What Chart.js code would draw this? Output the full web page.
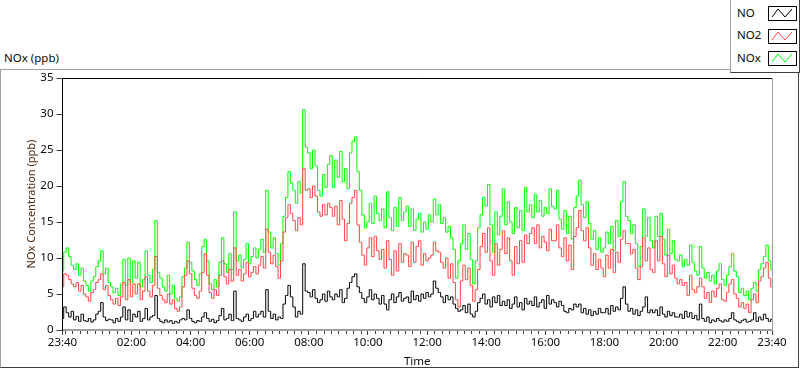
<!DOCTYPE html>
<html lang="en">
<head>
  <meta charset="UTF-8" />
  <title>NOx (ppb)</title>
  <script src="https://cdn.jsdelivr.net/npm/chart.js"></script>
  <style>
    html, body { margin: 0; padding: 0; background: #fff; }
    body { width: 800px; height: 369px; position: relative; overflow: hidden; font-family: "Noto Sans", sans-serif; color: #0a0a0a; }
    #frame { position: absolute; left: 0; top: 69px; width: 797px; height: 297px; border-top: 1px solid #a0a0a0; border-left: 1px solid #a0a0a0; border-right: 1px solid #404040; border-bottom: 1px solid #404040; }
    #plotTitle { position: absolute; left: 4px; top: 50px; font-size: 11.5px; line-height: normal; }
    #chart { position: absolute; left: 0; top: 0; }
    #legend { position: absolute; left: 730px; top: 0; width: 68px; height: 72px; background: #fff; border-left: 1px solid #a0a0a0; border-right: 1px solid #404040; border-bottom: 1px solid #404040; }
    .lg-text { position: absolute; left: 6px; font-size: 11.5px; line-height: normal; }
    .lg-icon { position: absolute; left: 37px; }
  </style>
</head>
<body>
  <div id="frame"></div>
  <div id="plotTitle">NOx (ppb)</div>
  <canvas id="chart" width="800" height="369"></canvas>
  <div id="legend"></div>

<script>
  // readings every 5 minutes, starting 23:40
  const sampleStep = 5;

  const NO = [
    1.6, 3.2, 2.4, 1.8, 2.6, 1.4, 1.9, 1.2, 2.2, 1.3,
    1.2, 1.6, 1.1, 1.4, 2.2, 2.6, 3.8, 1.8, 1.3, 1.5,
    1.4, 1.0, 1.6, 1.2, 1.8, 3.2, 1.4, 2.8, 1.2, 2.2,
    1.8, 2.6, 1.2, 1.6, 3.0, 1.4, 1.8, 2.0, 4.8, 1.6,
    1.2, 1.0, 1.4, 1.1, 1.3, 0.9, 1.2, 1.0, 1.4, 1.6,
    1.4, 2.8, 1.6, 1.2, 1.0, 1.3, 1.2, 1.8, 2.4, 1.6,
    1.2, 1.5, 1.0, 1.3, 2.0, 3.0, 1.4, 1.6, 2.2, 1.3,
    5.4, 1.6, 1.4, 1.2, 1.8, 2.2, 1.3, 1.6, 2.6, 1.8,
    2.2, 2.6, 1.8, 5.6, 2.6, 1.6, 2.2, 1.4, 1.8, 1.6,
    3.6, 4.8, 6.2, 4.6, 3.2, 1.8, 2.6, 2.2, 9.2, 5.4,
    5.2, 4.6, 5.6, 4.4, 3.8, 4.2, 5.0, 4.0, 5.4, 4.6,
    4.2, 5.0, 4.6, 5.6, 3.8, 4.4, 5.8, 6.6, 7.4, 7.8,
    6.0, 5.2, 4.4, 3.8, 4.6, 5.6, 4.2, 5.0, 4.4, 3.6,
    4.8, 3.6, 2.8, 4.2, 5.0, 3.8, 4.6, 5.2, 4.0, 4.4,
    4.6, 3.8, 5.4, 4.2, 4.8, 4.0, 5.0, 4.4, 5.2, 4.6,
    5.0, 6.8, 5.8, 5.2, 4.6, 3.8, 4.8, 4.2, 4.6, 3.6,
    3.0, 2.6, 2.8, 3.4, 2.4, 3.6, 2.2, 1.8, 2.6, 3.8,
    4.4, 5.0, 3.6, 4.2, 3.2, 4.6, 3.8, 4.8, 3.4, 4.0,
    3.4, 4.2, 3.0, 3.6, 4.6, 3.2, 3.8, 2.8, 4.4, 3.6,
    4.0, 3.4, 4.6, 3.2, 3.8, 4.2, 3.0, 4.8, 3.6, 4.2,
    3.8, 3.2, 4.0, 3.4, 2.6, 2.4, 3.0, 2.8, 3.6, 3.2,
    3.6, 2.4, 3.0, 2.2, 2.8, 2.0, 2.6, 2.2, 3.0, 2.4,
    2.4, 3.0, 2.2, 3.4, 2.6, 3.2, 2.8, 4.4, 6.0, 3.6,
    2.6, 3.0, 2.2, 2.8, 2.0, 2.6, 3.2, 4.6, 2.4, 2.8,
    2.4, 2.8, 2.0, 3.2, 2.2, 1.8, 2.6, 2.0, 2.4, 1.8,
    1.8, 2.2, 1.6, 2.6, 1.8, 2.4, 1.6, 2.0, 1.4, 3.6,
    1.6, 1.2, 1.8, 1.0, 1.4, 1.2, 1.6, 1.3, 1.1, 1.4,
    1.2, 1.6, 2.4, 1.4, 1.2, 1.0, 1.3, 1.5, 1.1, 1.2,
    1.4, 2.4, 1.2, 1.8, 1.4, 2.2, 1.6, 1.2, 1.5
  ];

  const NO2 = [
    6.0, 7.8, 7.6, 7.0, 6.4, 6.0, 6.6, 5.4, 6.2, 5.0,
    4.6, 4.0, 5.2, 5.6, 6.6, 7.0, 7.8, 5.6, 6.2, 4.8,
    4.2, 3.6, 4.4, 3.4, 4.6, 6.6, 4.2, 7.0, 4.6, 6.4,
    5.0, 6.4, 4.2, 5.4, 7.4, 5.4, 4.6, 6.2, 10.2, 5.8,
    4.8, 4.2, 3.8, 5.0, 3.6, 4.2, 3.0, 2.6, 3.2, 6.0,
    7.6, 9.6, 7.8, 5.8, 4.8, 4.4, 5.4, 8.0, 10.6, 7.6,
    5.2, 4.4, 5.6, 4.8, 7.6, 9.6, 7.4, 6.4, 8.4, 6.8,
    11.4, 7.6, 8.4, 6.8, 7.8, 9.4, 7.4, 8.0, 8.8, 7.8,
    9.0, 10.2, 8.6, 14.0, 10.8, 9.2, 10.4, 8.8, 7.2, 9.6,
    13.6, 15.6, 17.4, 16.2, 15.2, 13.8, 15.6, 14.6, 22.4, 19.4,
    19.6, 18.4, 20.0, 18.6, 16.4, 15.8, 17.4, 16.0, 17.6, 17.0,
    15.8, 17.2, 14.6, 18.0, 15.4, 12.4, 14.8, 17.6, 18.4, 19.4,
    14.6, 12.2, 10.4, 9.0, 11.4, 12.8, 10.2, 13.0, 11.0, 9.8,
    11.2, 8.6, 12.4, 9.8, 7.6, 11.0, 8.2, 12.0, 9.4, 10.6,
    10.4, 8.8, 12.2, 9.4, 11.6, 12.4, 9.0, 10.6, 9.6, 10.0,
    10.4, 12.2, 11.0, 10.8, 9.4, 8.6, 10.0, 7.2, 9.2, 6.6,
    4.2, 3.2, 6.8, 9.0, 7.0, 8.6, 6.2, 4.0, 5.6, 8.4,
    11.6, 13.4, 10.8, 14.2, 9.6, 7.6, 12.0, 9.0, 11.2, 13.8,
    10.6, 12.8, 9.6, 7.6, 11.6, 9.2, 12.4, 9.4, 13.2, 12.0,
    13.4, 14.2, 12.0, 14.6, 11.4, 13.0, 12.2, 11.0, 14.0, 12.4,
    12.4, 14.6, 11.4, 10.2, 12.8, 9.6, 11.8, 8.4, 13.0, 14.2,
    16.6, 13.8, 12.4, 14.2, 11.4, 9.0, 10.6, 8.4, 9.8, 8.6,
    7.4, 10.4, 8.6, 11.2, 8.0, 10.8, 9.4, 12.6, 13.8, 12.0,
    12.0, 10.6, 11.2, 8.6, 7.0, 8.8, 12.8, 9.6, 11.4, 8.4,
    8.0, 12.4, 9.6, 13.0, 9.2, 7.4, 10.4, 7.8, 9.0, 7.2,
    6.4, 7.0, 6.2, 6.6, 4.8, 7.6, 5.6, 5.2, 6.0, 7.2,
    6.0, 4.4, 5.2, 3.8, 5.4, 4.6, 5.8, 6.4, 4.2, 4.0,
    5.2, 6.4, 7.0, 5.0, 4.4, 3.2, 3.8, 3.0, 3.6, 2.4,
    4.2, 5.0, 3.8, 6.8, 7.4, 8.6, 9.4, 7.2, 6.0
  ];

  const NOx = [
    8.2, 10.8, 11.4, 10.2, 9.0, 8.4, 9.2, 7.6, 8.6, 6.8,
    6.2, 5.4, 6.8, 7.4, 8.8, 9.6, 11.0, 7.8, 8.6, 6.6,
    6.0, 5.2, 5.8, 4.8, 6.4, 9.8, 6.2, 10.0, 6.6, 9.6,
    7.2, 9.4, 6.0, 7.0, 11.0, 7.6, 6.6, 8.4, 15.2, 8.0,
    7.2, 6.0, 5.4, 7.6, 5.0, 6.2, 4.4, 4.0, 4.6, 7.4,
    8.6, 12.2, 9.4, 8.2, 7.0, 6.2, 7.8, 11.6, 12.6, 9.6,
    6.4, 5.6, 7.0, 6.0, 9.4, 12.8, 9.2, 8.0, 10.6, 8.4,
    16.4, 9.6, 10.4, 8.6, 9.8, 12.0, 9.2, 10.2, 11.4, 10.0,
    11.2, 12.6, 10.8, 19.4, 13.6, 11.4, 12.8, 10.6, 9.0, 12.0,
    15.8, 18.4, 22.0, 20.4, 19.4, 17.6, 20.6, 19.0, 30.6, 25.4,
    24.6, 22.4, 25.0, 22.8, 19.4, 18.6, 21.6, 19.8, 23.0, 24.2,
    19.8, 23.6, 21.2, 24.8, 20.6, 22.4, 19.6, 24.6, 26.2, 26.8,
    22.0, 19.4, 16.0, 14.2, 15.0, 17.6, 14.8, 18.6, 16.2, 15.2,
    16.8, 14.2, 19.2, 15.6, 13.8, 17.0, 14.4, 18.4, 15.2, 16.4,
    17.2, 14.4, 16.8, 13.8, 15.4, 16.2, 13.6, 15.0, 14.0, 16.0,
    15.0, 18.2, 16.0, 17.4, 14.8, 15.6, 13.6, 14.4, 12.8, 11.2,
    7.2, 9.6, 12.0, 14.6, 11.2, 13.4, 9.8, 6.4, 9.6, 14.2,
    16.0, 18.4, 17.2, 20.2, 14.6, 10.8, 16.4, 13.2, 15.8, 19.6,
    14.6, 17.8, 15.0, 13.4, 17.0, 14.2, 16.6, 13.8, 19.8, 16.4,
    17.4, 15.6, 18.8, 16.4, 18.0, 15.8, 17.0, 16.2, 19.6, 17.2,
    16.8, 19.4, 15.4, 14.0, 16.6, 13.4, 15.8, 12.6, 17.0, 18.6,
    20.8, 17.4, 15.6, 17.8, 14.8, 12.6, 13.8, 11.2, 12.8, 10.8,
    11.4, 13.6, 12.0, 14.4, 11.0, 15.2, 13.0, 17.8, 20.6, 15.8,
    15.2, 13.4, 14.6, 12.0, 8.8, 11.6, 16.8, 13.0, 15.6, 12.4,
    11.4, 15.8, 13.0, 16.2, 12.6, 10.4, 14.0, 10.6, 12.4, 9.8,
    9.6, 10.4, 8.8, 9.8, 9.0, 11.8, 9.4, 8.2, 7.6, 11.6,
    8.6, 7.2, 8.0, 6.8, 7.6, 6.4, 8.2, 9.2, 7.0, 6.2,
    7.6, 8.8, 10.6, 8.2, 7.4, 5.2, 5.8, 4.8, 5.4, 4.2,
    5.8, 6.6, 5.4, 8.4, 9.2, 10.2, 11.8, 9.6, 8.4
  ];

  // x axis: minutes after 23:40
  const majorTicks = [0, 140, 260, 380, 500, 620, 740, 860, 980, 1100, 1220, 1340, 1440];
  const majorLabels = ["23:40", "02:00", "04:00", "06:00", "08:00", "10:00", "12:00",
                       "14:00", "16:00", "18:00", "20:00", "22:00", "23:40"];
  const yTicks = [0, 5, 10, 15, 20, 25, 30, 35];

  const seriesNames = ["NO", "NO2", "NOx"];
  const seriesColors = ["#000000", "#ff4444", "#00ff00"];
  const seriesData = [NO, NO2, NOx];

  const minutes = NO.map((_, i) => i * sampleStep);
  const textColor = "#0a0a0a";
  const tickFont = { family: "Noto Sans", size: 11.5 };

  // legend box (LabVIEW style plot legend)
  const legend = document.getElementById("legend");
  seriesNames.forEach((name, i) => {
    const top = 6 + i * 22.7;
    legend.insertAdjacentHTML("beforeend",
      `<div class="lg-text" style="top:${top - 1.5}px">${name}</div>
       <svg class="lg-icon" style="top:${top}px" width="29" height="15">
         <rect x="0.5" y="0.5" width="28" height="14" fill="#fff" stroke="#000"/>
         <polyline points="4,11 10,3 17,11 24,3" fill="none" stroke="${seriesColors[i]}" stroke-width="1"/>
       </svg>`);
  });

  // plot frame: dark top, light right (the axes draw left & bottom)
  const framePlugin = {
    id: "frame",
    afterDraw(chart) {
      const { ctx, chartArea: a } = chart;
      ctx.save();
      ctx.lineWidth = 1;
      ctx.strokeStyle = "#000";
      ctx.beginPath();
      ctx.moveTo(a.left, a.top + 0.5);
      ctx.lineTo(a.right, a.top + 0.5);
      ctx.stroke();
      ctx.strokeStyle = "#a0a0a0";
      ctx.beginPath();
      ctx.moveTo(a.right + 0.5, a.top);
      ctx.lineTo(a.right + 0.5, a.bottom);
      ctx.stroke();

      // minor ticks every 15 minutes of clock time
      const x = chart.scales.x;
      ctx.strokeStyle = "#404040";
      ctx.beginPath();
      for (let m = 5; m < 1440; m += 15) {
        if (majorTicks.includes(m)) continue;
        const px = Math.round(x.getPixelForValue(m)) + 0.5;
        ctx.moveTo(px, a.bottom + 1);
        ctx.lineTo(px, a.bottom + 4);
      }
      ctx.stroke();
      ctx.restore();
    }
  };

  new Chart(document.getElementById("chart"), {
    type: "line",
    data: {
      datasets: seriesNames.map((name, i) => ({
        label: name,
        data: seriesData[i].map((v, j) => ({ x: minutes[j], y: v })),
        borderColor: seriesColors[i],
        borderWidth: 1,
        pointRadius: 0,
        fill: false,
        stepped: "middle"
      }))
    },
    options: {
      responsive: false,
      animation: false,
      devicePixelRatio: 1,
      layout: { padding: { top: 78, right: 28, left: 0, bottom: 0 } },
      plugins: {
        legend: { display: false },
        tooltip: { enabled: false }
      },
      scales: {
        x: {
          type: "linear",
          min: 0,
          max: 1440,
          afterBuildTicks: (scale) => { scale.ticks = majorTicks.map(v => ({ value: v })); },
          afterFit: (scale) => { scale.height = 39; },
          ticks: {
            autoSkip: false,
            maxRotation: 0,
            padding: 1,
            color: textColor,
            font: tickFont,
            callback: (v, i) => majorLabels[i]
          },
          grid: { drawOnChartArea: false, tickLength: 5, tickColor: "#404040" },
          border: { color: "#a0a0a0", width: 2 },
          title: { display: true, text: "Time", color: textColor, font: tickFont, padding: { top: 0, bottom: 0 } }
        },
        y: {
          min: 0,
          max: 35,
          afterBuildTicks: (scale) => { scale.ticks = yTicks.map(v => ({ value: v })); },
          afterFit: (scale) => { scale.width = 62.5; },
          ticks: { padding: 3, color: textColor, font: tickFont },
          grid: { drawOnChartArea: false, tickLength: 6, tickColor: "#404040" },
          border: { color: "#000000", width: 1 },
          title: {
            display: true,
            text: "NOx Concentration (ppb)",
            color: "#4a2a10",
            font: { family: "Noto Sans", size: 11 },
            padding: { top: 25, bottom: 0 }
          }
        }
      }
    },
    plugins: [framePlugin]
  });
</script>
</body>
</html>
